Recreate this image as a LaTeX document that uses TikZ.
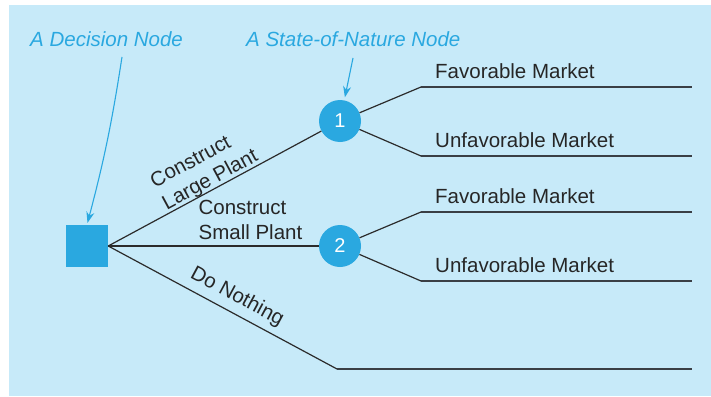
\documentclass[tikz,border=0pt]{standalone}
\usepackage{fontspec}
\setmainfont{Liberation Sans}
\usetikzlibrary{arrows.meta}
\definecolor{bgblue}{HTML}{C7EAF9}
\definecolor{nodeblue}{HTML}{2AA8E0}
\definecolor{linegray}{HTML}{2B2B2B}
\definecolor{hlinegray}{HTML}{3A3F45}
\tikzset{
  txt/.style={font=\fontsize{20.5}{25}\selectfont, inner sep=0pt, text=black!85},
  bluetxt/.style={font=\fontsize{20.5}{25}\selectfont\itshape, inner sep=0pt, text=nodeblue},
  decnode/.style={draw=none, fill=nodeblue, minimum size=42pt, inner sep=0pt},
  chancenode/.style={circle, fill=nodeblue, minimum size=42pt, inner sep=0pt, text=white, font=\fontsize{20}{24}\selectfont},
  branch/.style={draw=linegray, line width=1.2pt},
  hbranch/.style={draw=hlinegray, line width=1.6pt},
  callout/.style={draw=nodeblue, line width=1.1pt, -{Stealth[length=11pt,width=8pt]}},
}
\begin{document}
\begin{tikzpicture}[x=1pt,y=-1pt]
\useasboundingbox (0,0) rectangle (711,396);
\fill[bgblue] (9,5) rectangle (711,396);

% nodes
\node[decnode] (d) at (87,246) {};
\node[chancenode] (n1) at (340,121) {1};
\node[chancenode] (n2) at (340,246) {2};

% branch coordinates
\coordinate (f1a) at (421,87);  \coordinate (f1b) at (692,87);
\coordinate (u1a) at (421,156); \coordinate (u1b) at (692,156);
\coordinate (f2a) at (421,212); \coordinate (f2b) at (692,212);
\coordinate (u2a) at (421,281); \coordinate (u2b) at (692,281);
\coordinate (dna) at (337,369); \coordinate (dnb) at (692,369);

% decision branches
\draw[branch] (d.east) -- node[txt, pos=0.5, sloped, above=-1pt, align=left] (lp) {Construct\\Large Plant} (n1);
\draw[branch] (d.east) -- node[txt, pos=0.4265, anchor=south west, yshift=6pt, align=left] (sp) {Construct\\Small Plant} (n2);
\draw[branch] (d.east) -- node[txt, pos=0.53, sloped, above=6pt] (dn) {Do Nothing} (dna);
\draw[hbranch] (dna) -- (dnb);

% chance branches
\draw[branch] (n1) -- (f1a); \draw[hbranch] (f1a) -- (f1b);
\draw[branch] (n1) -- (u1a); \draw[hbranch] (u1a) -- (u1b);
\draw[branch] (n2) -- (f2a); \draw[hbranch] (f2a) -- (f2b);
\draw[branch] (n2) -- (u2a); \draw[hbranch] (u2a) -- (u2b);

% outcome labels
\node[txt, anchor=base west] (t1) at (435,78) {Favorable Market};
\node[txt, anchor=base west] (t2) at (435,147) {Unfavorable Market};
\node[txt, anchor=base west] (t3) at (435,203) {Favorable Market};
\node[txt, anchor=base west] (t4) at (435,272) {Unfavorable Market};

% callouts
\node[bluetxt, anchor=base west] (ld) at (30,46) {A Decision Node};
\node[bluetxt, anchor=base west] (ls) at (246,46) {A State-of-Nature Node};
\coordinate (cd) at (122,57);
\coordinate (cs) at (353,58);
\draw[callout, shorten >=2pt] (cd) to[bend left=3] (d.north);
\draw[callout, shorten >=3pt] (cs) -- (n1);
\end{tikzpicture}
\end{document}
